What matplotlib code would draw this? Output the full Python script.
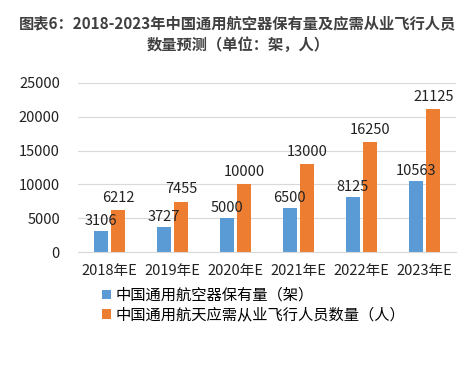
import matplotlib.pyplot as plt
import numpy as np

plt.rcParams['font.family'] = ['Noto Sans CJK SC', 'DejaVu Sans']

years = ['2018年E', '2019年E', '2020年E', '2021年E', '2022年E', '2023年E']
aircraft = [3106, 3727, 5000, 6500, 8125, 10563]
pilots = [6212, 7455, 10000, 13000, 16250, 21125]
yticks = [0, 5000, 10000, 15000, 20000, 25000]

blue = '#5B9BD5'
orange = '#ED7D31'

fig = plt.figure(figsize=(4.76, 3.68), dpi=100)
ax = fig.add_axes([78 / 476, 1 - 252 / 368, 378 / 476, 169 / 368])

x = np.arange(len(years))
w = 0.22
b1 = ax.bar(x - 0.14, aircraft, w, color=blue, zorder=2)
b2 = ax.bar(x + 0.14, pilots, w, color=orange, zorder=2)

# labels above the bars
for rect, v in zip(b1, aircraft):
    ax.text(rect.get_x() + rect.get_width() / 2, v + 400, str(v),
            ha='center', va='bottom', fontsize=10.5, color='#222222')
for rect, v in zip(b2, pilots):
    ax.text(rect.get_x() + rect.get_width() / 2, v + 800, str(v),
            ha='center', va='bottom', fontsize=10.5, color='#222222')

ax.set_xlim(-0.5, len(years) - 0.5)
ax.set_ylim(0, 25000)
ax.set_yticks(yticks)
ax.set_xticks(x)
ax.set_xticklabels(years)
ax.yaxis.grid(True, color='#d9d9d9', linewidth=0.8, zorder=0)
for s in ax.spines.values():
    s.set_visible(False)
ax.spines['bottom'].set_visible(True)
ax.spines['bottom'].set_color('#d9d9d9')
ax.tick_params(axis='both', length=0, labelsize=10.5, colors='#222222')
ax.tick_params(axis='y', pad=13)
ax.tick_params(axis='x', pad=9)

fig.text(0.5, 1 - 23 / 368, '图表6：2018-2023年中国通用航空器保有量及应需从业飞行人员',
         ha='center', va='center', fontsize=11, fontweight='bold', color='#404040')
fig.text(0.5, 1 - 45 / 368, '数量预测（单位：架，人）',
         ha='center', va='center', fontsize=11, fontweight='bold', color='#404040')

ax.legend([b1, b2], ['中国通用航空器保有量（架）', '中国通用航天应需从业飞行人员数量（人）'],
          loc='upper left', bbox_to_anchor=(102 / 476, 1 - 287 / 368),
          bbox_transform=fig.transFigure, frameon=False, fontsize=11,
          handlelength=0.6, handleheight=0.6, handletextpad=0.3,
          labelspacing=0.15, borderaxespad=0, borderpad=0)

fig.savefig('out.png', dpi=100, facecolor='white')
